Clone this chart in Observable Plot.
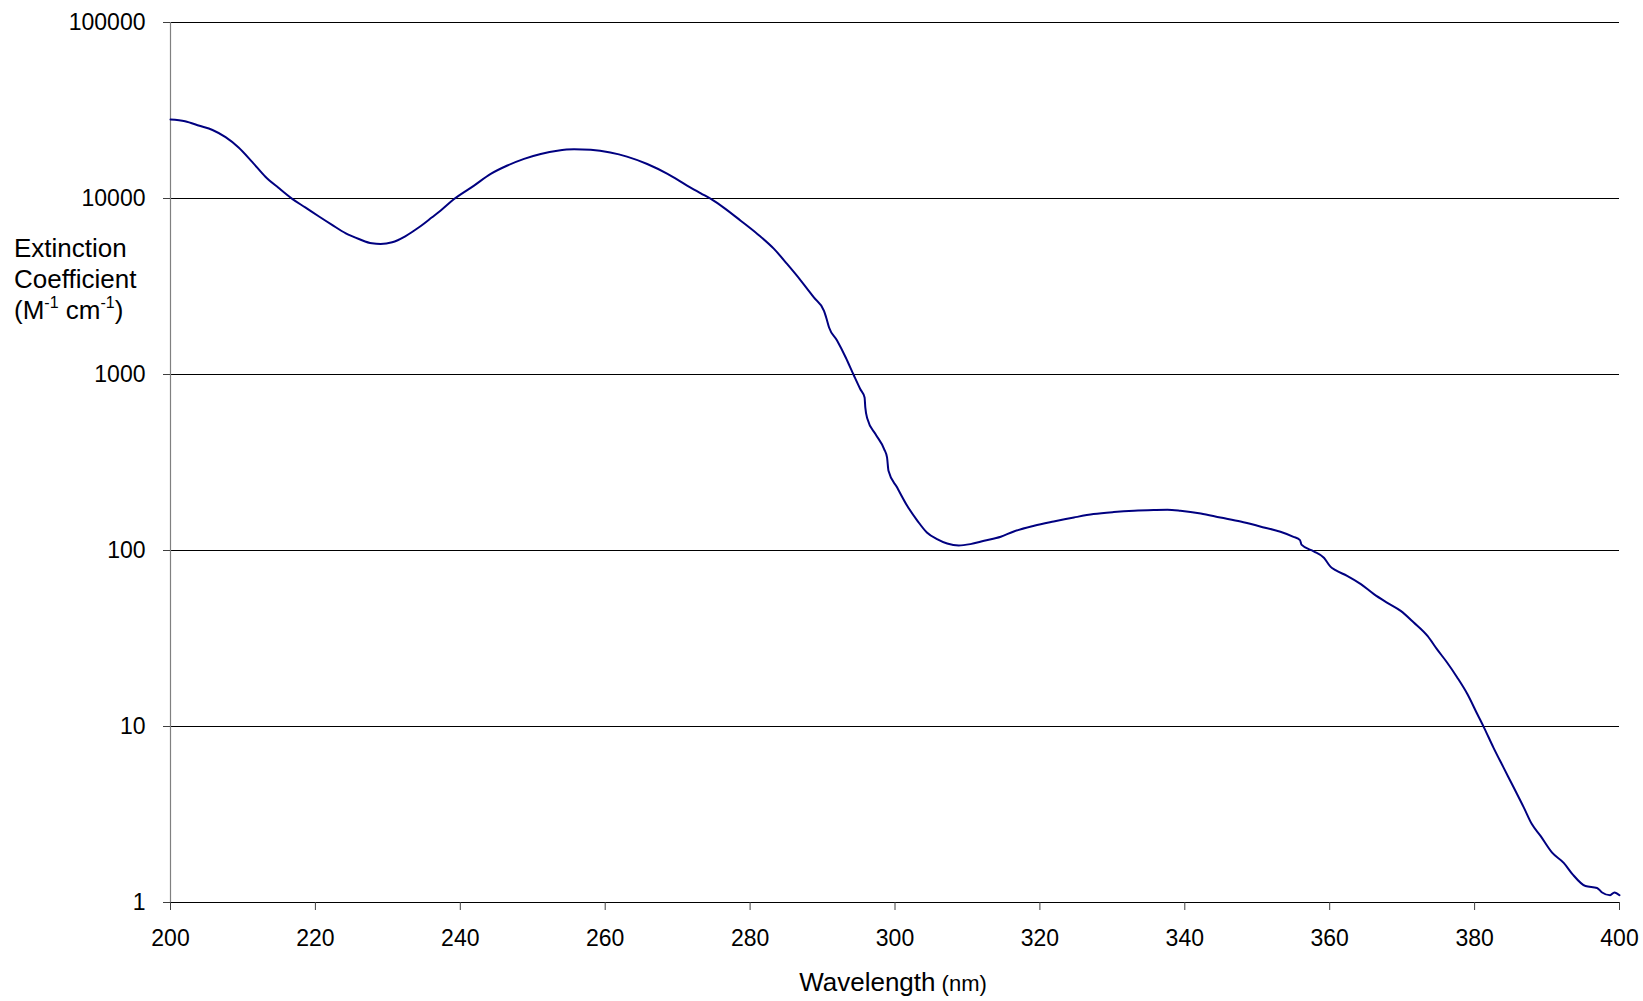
<!DOCTYPE html>
<html>
<head>
<meta charset="utf-8">
<script src="https://cdn.jsdelivr.net/npm/d3@7"></script>
<script src="https://cdn.jsdelivr.net/npm/@observablehq/plot@0.6"></script>
<style>
  html, body { margin: 0; padding: 0; background: #fff; }
  #chart { width: 1643px; height: 1001px; }
</style>
</head>
<body>
<div id="chart"></div>
<script>
// Wavelength (nm)
const wavelength = [
  200.0, 202.0, 204.0, 205.8, 207.6, 209.4, 211.3, 213.1, 214.9, 216.8,
  218.6, 220.5, 222.3, 224.2, 226.0, 227.8, 229.0, 230.6, 232.4, 234.3,
  236.1, 237.3, 239.1, 241.9, 244.2, 246.5, 248.8, 251.1, 253.4, 255.7,
  258.0, 260.7, 263.0, 265.8, 268.6, 271.3, 273.2, 274.8, 276.4, 278.7,
  281.0, 283.3, 285.1, 287.0, 288.8, 290.2, 290.5, 290.9, 292.0, 293.2,
  294.3, 295.2, 295.8, 295.9, 296.2, 297.3, 298.5, 298.9, 299.1, 300.3,
  301.7, 303.1, 304.4, 305.8, 307.2, 308.8, 310.4, 312.3, 314.6, 316.4,
  319.2, 321.9, 324.7, 327.4, 330.2, 333.0, 335.7, 337.6, 339.4, 342.2,
  344.9, 347.7, 350.4, 353.2, 355.0, 355.9, 356.1, 357.8, 359.2, 360.1,
  360.8, 362.4, 364.3, 366.1, 367.9, 369.8, 371.6, 373.5, 374.8, 376.2,
  377.6, 379.0, 380.4, 381.3, 382.6, 384.0, 385.4, 386.8, 387.9, 389.1,
  390.7, 392.3, 393.5, 395.3, 396.9, 397.6, 398.7, 399.3, 400.0
];
// Extinction coefficient (M^-1 cm^-1)
const epsilon = [
  28100, 27500, 25900, 24500, 22300, 19500, 16100, 13300, 11500, 9950,
  8900, 7900, 7080, 6340, 5890, 5560, 5520, 5640, 6100, 6860,
  7820, 8550, 9900, 11840, 13800, 15400, 16800, 17900, 18700, 19050,
  18900, 18240, 17300, 15700, 13800, 11850, 10700, 9820, 8850, 7480,
  6290, 5170, 4250, 3420, 2740, 2300, 2110, 1850, 1560, 1250,
  993, 827, 741, 650, 558, 459, 377, 338, 284, 228,
  179, 147.5, 126.6, 116, 109.6, 106.8, 108.7, 113.6, 119.7, 128.3,
  138.2, 146.1, 154, 161, 165.3, 168.2, 169.7, 170.3, 168.2, 162.3,
  154, 146.1, 137, 127.7, 119.6, 114.6, 108, 99, 91, 81,
  77.4, 71.8, 64.4, 56.5, 50.6, 45.4, 39, 32.7, 27.5, 23.1,
  19, 15.3, 11.7, 9.86, 7.59, 5.84, 4.5, 3.46, 2.79, 2.39,
  1.92, 1.68, 1.45, 1.24, 1.21, 1.14, 1.10, 1.14, 1.10
];
const xTicks = [200, 220, 240, 260, 280, 300, 320, 340, 360, 380, 400];
const yTicks = [1, 10, 100, 1000, 10000, 100000];

const data = wavelength.map((w, i) => ({w, e: epsilon[i]}));
const FONT = "'Liberation Sans', Arial, Helvetica, sans-serif";

const svg = Plot.plot({
  width: 1643,
  height: 1001,
  marginLeft: 170,
  marginRight: 24,
  marginTop: 22,
  marginBottom: 99,
  style: {fontFamily: FONT, fontSize: "23px", color: "#000", background: "#fff"},
  x: {domain: [200, 400]},
  y: {type: "log", domain: [1, 100000]},
  marks: [
    Plot.ruleY(yTicks, {stroke: "#000", strokeWidth: 1}),
    Plot.ruleX([200], {stroke: "#808080", strokeWidth: 1.2}),
    Plot.axisX({ticks: xTicks, tickSize: 8, tickPadding: 19, tickFormat: d3.format("d"),
      label: null, fontSize: 23, stroke: "#404040"}),
    Plot.axisY({ticks: yTicks, tickSize: 7, tickPadding: 18, tickFormat: d3.format("d"),
      label: null, fontSize: 23, stroke: "#404040"}),
    Plot.line(data, {x: "w", y: "e", stroke: "#000080", strokeWidth: 2, curve: "monotone-x"})
  ]
});

const s = d3.select(svg);
// Y axis title (three lines, left)
const yt = s.append("text")
  .attr("font-family", FONT).attr("font-size", 26).attr("fill", "#000")
  .attr("text-anchor", "start");
yt.append("tspan").attr("x", 14).attr("y", 257).text("Extinction");
yt.append("tspan").attr("x", 14).attr("y", 288).text("Coefficient");
const l3 = s.append("text")
  .attr("font-family", FONT).attr("font-size", 26).attr("fill", "#000")
  .attr("text-anchor", "start")
  .attr("x", 14).attr("y", 319);
l3.append("tspan").text("(M");
l3.append("tspan").attr("font-size", 16).attr("dy", -11).text("-1");
l3.append("tspan").attr("dy", 11).text(" cm");
l3.append("tspan").attr("font-size", 16).attr("dy", -11).text("-1");
l3.append("tspan").attr("dy", 11).text(")");

// X axis title
const xt = s.append("text")
  .attr("font-family", FONT).attr("fill", "#000")
  .attr("x", 893).attr("y", 991).attr("text-anchor", "middle");
xt.append("tspan").attr("font-size", 26).text("Wavelength");
xt.append("tspan").attr("font-size", 22).text(" (nm)");

document.getElementById("chart").appendChild(svg);
</script>
</body>
</html>
